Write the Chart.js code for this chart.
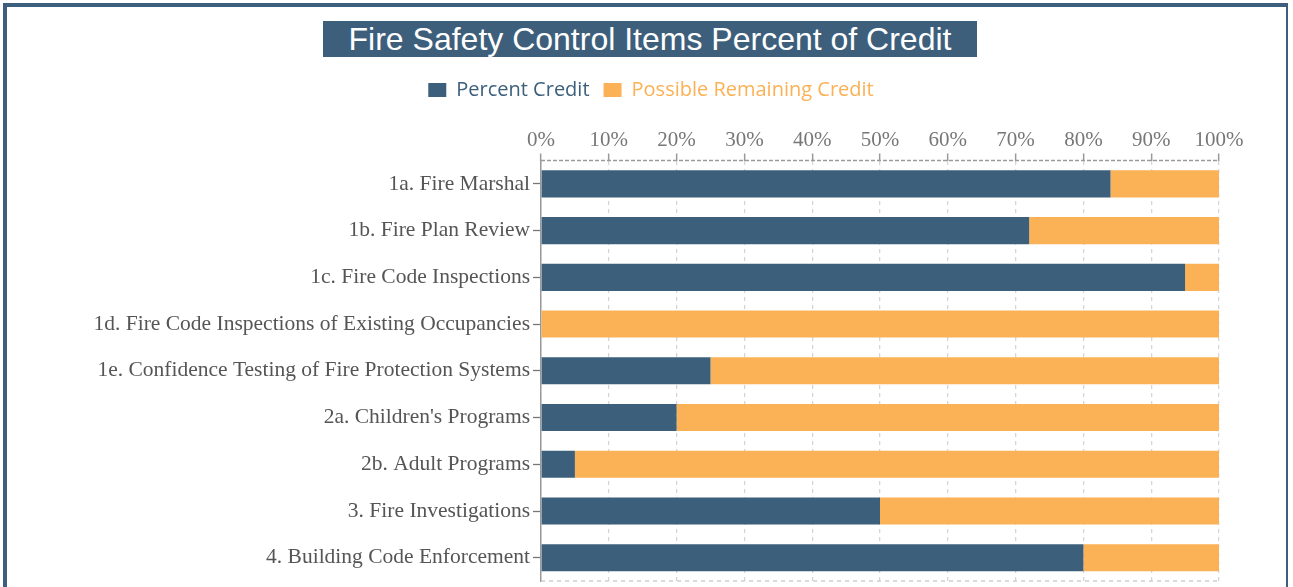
<!DOCTYPE html>
<html>
<head>
<meta charset="utf-8">
<script src="https://cdn.jsdelivr.net/npm/chart.js@4.4.1/dist/chart.umd.min.js"></script>
<style>
  body { margin: 0; background: #fff; overflow: hidden; }
  #frame { position: absolute; left: 3px; top: 3px; width: 1279px; height: 600px;
           border: 4px solid #3d5f7d; border-bottom: none; border-right-width: 2px; }
  #title { position: absolute; left: 316px; top: 14px; width: 654px; height: 36px;
           background: #3d5f7b; color: #fff; font-family: 'Liberation Sans', Arial, sans-serif;
           font-size: 32px; line-height: 37px; text-align: center; }
  #wrap { position: absolute; left: 0; top: 0; width: 1279px; height: 590px; }
</style>
</head>
<body>
<div id="frame">
  <div id="wrap"><canvas id="creditChart"></canvas></div>
  <div id="title">Fire Safety Control Items Percent of Credit</div>
</div>
<script>
const categories = [
  '1a. Fire Marshal',
  '1b. Fire Plan Review',
  '1c. Fire Code Inspections',
  '1d. Fire Code Inspections of Existing Occupancies',
  '1e. Confidence Testing of Fire Protection Systems',
  "2a. Children's Programs",
  '2b. Adult Programs',
  '3. Fire Investigations',
  '4. Building Code Enforcement'
];
const percentCredit = [84, 72, 95, 0, 25, 20, 5, 50, 80];
const remainingCredit = [16, 28, 5, 100, 75, 80, 95, 50, 20];

const blue = '#3c5f7c';
const orange = '#fbb155';

// dashed line along the top axis and the bottom of the plot
const edgeLines = {
  id: 'edgeLines',
  afterDraw(chart) {
    const { ctx, chartArea } = chart;
    ctx.save();
    ctx.lineWidth = 1.5;
    ctx.setLineDash([4, 2]);
    ctx.strokeStyle = '#9a9a9a';
    ctx.beginPath();
    ctx.moveTo(chartArea.left, chartArea.top);
    ctx.lineTo(chartArea.right, chartArea.top);
    ctx.stroke();
    ctx.setLineDash([4, 4]);
    ctx.strokeStyle = '#d0d0d0';
    ctx.beginPath();
    ctx.moveTo(chartArea.left, chartArea.bottom);
    ctx.lineTo(chartArea.right, chartArea.bottom);
    ctx.stroke();
    ctx.restore();
  }
};

const ctx = document.getElementById('creditChart').getContext('2d');
new Chart(ctx, {
  type: 'bar',
  data: {
    labels: categories,
    datasets: [{
      label: 'Percent Credit',
      data: percentCredit,
      backgroundColor: blue,
      barPercentage: 0.58,
      categoryPercentage: 1
    },
    {
      label: 'Possible Remaining Credit',
      data: remainingCredit,
      backgroundColor: orange,
      barPercentage: 0.58,
      categoryPercentage: 1
    }]
  },
  options: {
    indexAxis: 'y',
    responsive: true,
    maintainAspectRatio: false,
    animation: false,
    layout: { padding: { top: 59, right: 67, bottom: 15, left: 76 } },
    plugins: {
      tooltip: { enabled: false },
      legend: {
        position: 'top',
        labels: {
          boxWidth: 18,
          boxHeight: 14,
          padding: 14,
          font: { family: "'Open Sans', 'Noto Sans', sans-serif", size: 20 },
          generateLabels(chart) {
            return chart.data.datasets.map((ds, i) => ({
              text: ds.label,
              fillStyle: ds.backgroundColor,
              strokeStyle: ds.backgroundColor,
              lineWidth: 0,
              fontColor: ds.backgroundColor,
              datasetIndex: i,
              hidden: false
            }));
          }
        }
      }
    },
    scales: {
      x: {
        position: 'top',
        stacked: true,
        min: 0,
        max: 100,
        afterFit(scale) { scale.height = 50.5; },
        ticks: {
          stepSize: 10,
          padding: 0,
          color: '#777',
          font: { family: "'Liberation Serif', 'Times New Roman', serif", size: 21 },
          callback: v => v + '%'
        },
        grid: {
          color: '#d6d6d6',
          lineWidth: 1.3,
          drawTicks: true,
          tickLength: 7,
          tickColor: '#999',
          tickWidth: 1.5,
          tickBorderDash: []
        },
        border: { display: false, dash: [4, 4] }
      },
      y: {
        stacked: true,
        afterFit(scale) { scale.width = 458; },
        ticks: {
          padding: 3,
          color: '#555',
          font: { family: "'Liberation Serif', 'Times New Roman', serif", size: 21.5 }
        },
        grid: {
          offset: false,
          drawOnChartArea: false,
          drawTicks: true,
          tickLength: 8,
          tickColor: '#777',
          tickWidth: 1.3
        },
        border: { display: true, color: '#999', width: 1.5 }
      }
    }
  },
  plugins: [edgeLines]
});
</script>
</body>
</html>
